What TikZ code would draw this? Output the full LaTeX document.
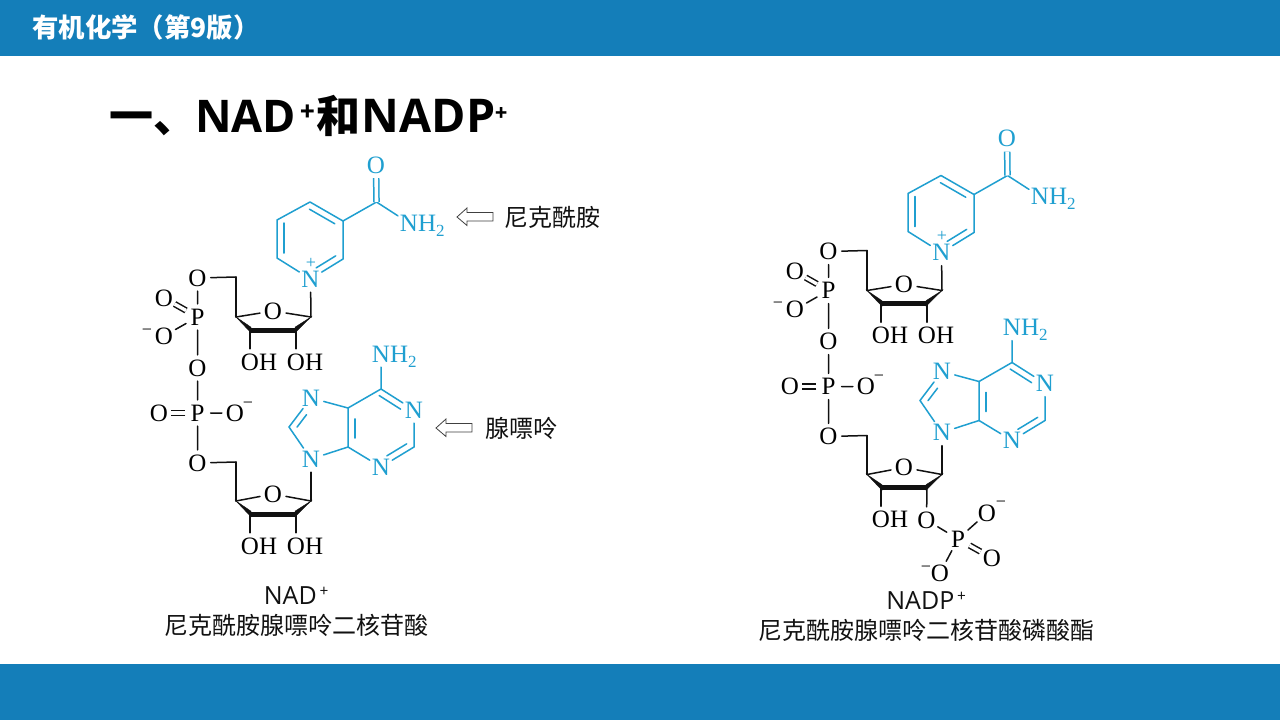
\documentclass[tikz,border=0pt]{standalone}
\usepackage{fontspec}
\setmainfont{Liberation Serif}
\newfontfamily\cjk{Noto Sans CJK SC}
\newfontfamily\latinsans{Open Sans}
\usetikzlibrary{calc}
\definecolor{barblue}{HTML}{147EB9}
\definecolor{chemblue}{HTML}{1F9FD0}
\definecolor{inkblack}{HTML}{111111}
\newcommand\atomC[1]{\makebox[0pt][c]{#1}}
\newcommand\atomL[1]{\makebox[0pt][l]{\hspace{-.361em}#1}}
\newcommand\subtwo{\raisebox{-5pt}{\fontsize{17}{17}\selectfont 2}}
\newcommand\innerb[5]{\draw[bond] ($(#1)!#3!(#2)!#5pt!90:(#2)$) -- ($(#2)!#4!(#1)!-#5pt!90:(#1)$);}
\newcommand\sugarring{%
  \fill[bondblack] (c4) -- ($(c3)+(1,-2.8)$) -- ($(c3)+(1,2.8)$) -- cycle;
  \fill[bondblack] (c1) -- ($(c2)+(-1,-2.8)$) -- ($(c2)+(-1,2.8)$) -- cycle;
  \draw[bondblack,line width=5pt] (c3) -- (c2);
  \draw[bondk] (c4) -- (Or) (Or) -- (c1);
}
\newcommand\moleculecore{%
  % nicotinamide
  \begin{scope}[chem]
  \node[atom] (Oa) at (376,165) {\atomC{O}};
  \coordinate (Ca) at (376.5,202);
  \node[atom] (Na) at (409,223) {\atomL{NH\subtwo}};
  \coordinate (T) at (310,202);
  \coordinate (RT) at (343,221);
  \coordinate (RB) at (343,259);
  \node[atom] (Np) at (310.5,279) {\atomC{N}};
  \coordinate (LB) at (277,258);
  \coordinate (LT) at (277,220);
  \node[signnode] (plus) at (311,263) {+};
  \draw[bond] (T) -- (RT) -- (RB) -- (Np) (Np) -- (LB) -- (LT) -- (T);
  \draw[bond] (RT) -- (Ca) -- (Na);
  \draw[bond,line cap=butt,double,double distance=3.6pt] (Ca) -- (Oa);
  \innerb{LT}{LB}{.08}{.13}{7}
  \innerb{RT}{T}{.15}{.08}{6.5}
  \innerb{Np}{RB}{.28}{.12}{6.5}
  % adenine
  \node[atom] (Nb) at (381,354) {\atomL{NH\subtwo}};
  \coordinate (C6) at (381,389);
  \node[atom] (N1) at (414,410) {\atomC{N}};
  \coordinate (C2a) at (414,447);
  \node[atom] (N3) at (381,467) {\atomC{N}};
  \coordinate (C4a) at (348,447);
  \coordinate (C5a) at (348,408);
  \node[atom] (N7) at (311,398) {\atomC{N}};
  \coordinate (C8) at (289,427);
  \node[atom] (N9) at (311,459) {\atomC{N}};
  \draw[bond] (Nb) -- (C6) -- (N1) (N1) -- (C2a) -- (N3) (N3) -- (C4a) -- (C5a) -- (C6);
  \draw[bond] (C5a) -- (N7) (N7) -- (C8) -- (N9) (N9) -- (C4a);
  \innerb{C5a}{C4a}{.28}{.23}{7}
  \innerb{N3}{C2a}{.28}{.12}{6.5}
  \innerb{N1}{C6}{.3}{.05}{6.5}
  \innerb{N7}{C8}{.44}{.13}{6.5}
  \end{scope}
  % upper ribose
  \begin{scope}[name prefix=u-]
  \coordinate (c4) at (236,317);
  \coordinate (c3) at (250,330);
  \coordinate (c2) at (296,330);
  \coordinate (c1) at (311,317);
  \coordinate (c5) at (236,277);
  \node[atom] (Or) at (273,311) {\atomC{O}};
  \sugarring
  \node[atom] (O3) at (250,362) {\atomL{OH}};
  \node[atom] (O2) at (296,362) {\atomL{OH}};
  \draw[bondk] (c3) -- (O3) (c2) -- (O2) (c4) -- (c5);
  \end{scope}
  \draw[bondk] (u-c1) -- (Np);
  % pyrophosphate
  \node[atom] (O5) at (197.5,278) {\atomC{O}};
  \node[atom] (Pa) at (197.5,317) {\atomC{P}};
  \node[atom] (Oab) at (164,298) {\atomC{O}};
  \node[atom] (Oac) at (164,336) {\atomC{O}};
  \node[signnode] (ma) at (147,332) {−};
  \node[atom] (Ob) at (197.5,368) {\atomC{O}};
  \node[atom] (Pb) at (197.5,413) {\atomC{P}};
  \node[atom] (Obl) at (159,413) {\atomC{O}};
  \node[atom] (Obr) at (235,413) {\atomC{O}};
  \node[signnode] (mb) at (248,405) {−};
  \node[atom] (Oc) at (197.5,463) {\atomC{O}};
  \draw[bondk] (u-c5) -- (O5) (O5) -- (Pa) (Pa) -- (Oac) (Pa) -- (Ob) (Ob) -- (Pb) (Pb) -- (Obr) (Pb) -- (Oc);
  \draw[bondk,line cap=butt,double,double distance=3.4pt,shorten >=-1pt] (Pa) -- (Oab);
  \draw[bondk,line cap=butt,double,double distance=3.4pt,shorten <=-1pt,shorten >=-1pt] (Pb) -- (Obl);
  % lower ribose
  \begin{scope}[name prefix=d-]
  \coordinate (c4) at (236,501);
  \coordinate (c3) at (250,514);
  \coordinate (c2) at (296,514);
  \coordinate (c1) at (311,501);
  \coordinate (c5) at (236,462);
  \node[atom] (Or) at (273,494) {\atomC{O}};
  \sugarring
  \node[atom] (O3) at (250,546) {\atomL{OH}};
  \draw[bondk] (c3) -- (O3) (c4) -- (c5);
  \end{scope}
  \draw[bondk] (d-c5) -- (Oc);
  \draw[bondk] (d-c1) -- (N9);
}
\tikzset{
  x=1pt,y=-1pt,
  chem/.style={text=chemblue,draw=chemblue,fill=chemblue},
  bond/.style={draw=chemblue,line width=1.5pt,fill=none,line cap=round},
  bondk/.style={draw=inkblack,line width=1.5pt,line cap=round},
  bondblack/.style={draw=inkblack,fill=inkblack},
  atom/.style={circle,inner sep=0pt,minimum size=26pt,text height=16.5pt,text depth=0pt,
    font=\fontsize{25}{30}\selectfont,draw=none,fill=none},
  signnode/.style={inner sep=0pt,font=\fontsize{18}{20}\selectfont,draw=none,fill=none},
  caption/.style={inner sep=0pt,font=\cjk\fontsize{24}{29}\selectfont,text=inkblack},
  hollow/.style={draw=black!75,line width=.8pt,fill=white},
}
\begin{document}
\begin{tikzpicture}
\useasboundingbox (0,0) rectangle (1280,720);
\fill[white] (0,0) rectangle (1280,720);
\fill[barblue] (0,0) rectangle (1280,56);
\fill[barblue] (0,664) rectangle (1280,720);
\node[anchor=west,inner sep=0pt,text=white,font=\cjk\bfseries\fontsize{26.4}{30}\selectfont] (head) at (32,28) {有机化学（第9版）};
\node[anchor=west,inner sep=0pt,text=black,font=\cjk\bfseries\fontsize{44}{52}\selectfont] (title) at (109,116)
  {一、\hspace{-2pt}{\latinsans\bfseries\fontsize{45}{52}\selectfont NAD}\hspace{4pt}\raisebox{12pt}{\fontsize{24}{24}\selectfont +}\hspace{2pt}和\hspace{1pt}{\latinsans\bfseries\fontsize{46.5}{52}\selectfont NADP}\raisebox{12pt}{\fontsize{20}{20}\selectfont +}};

% NAD+
\begin{scope}[name prefix=L-]
\moleculecore
\node[atom] (O2x) at (296,546) {\atomL{OH}};
\draw[bondk] (d-c2) -- (O2x);
\end{scope}

% NADP+
\begin{scope}[shift={(631,-26.5)},name prefix=R-]
\moleculecore
\node[atom] (O2p) at (295.5,546.5) {\atomC{O}};
\node[atom] (Pc) at (327,565.5) {\atomC{P}};
\node[atom] (Oc1) at (356,539.5) {\atomC{O}};
\node[signnode] (mc1) at (370,531) {−};
\node[atom] (Oc2) at (361,584.5) {\atomC{O}};
\node[atom] (Oc3) at (309,599.5) {\atomC{O}};
\node[signnode] (mc3) at (295,595.5) {−};
\draw[bondk] (d-c2) -- (O2p) (O2p) -- (Pc) (Pc) -- (Oc1) (Pc) -- (Oc3);
\draw[bondk,line cap=butt,double,double distance=3.4pt] (Pc) -- (Oc2);
\end{scope}

% hollow arrows
\draw[hollow] (457,217) -- (467,208) -- (467,212.5) -- (493,212.5) -- (493,221) -- (467,221) -- (467,225.5) -- cycle;
\draw[hollow] (436,428) -- (446,419) -- (446,423.5) -- (472,423.5) -- (472,432) -- (446,432) -- (446,436.5) -- cycle;
\node[caption,anchor=west] (nam) at (504,217) {尼克酰胺};
\node[caption,anchor=west] (ade) at (485,428) {腺嘌呤};

\node[caption] (nadname) at (296,596) {{\latinsans\fontsize{25}{29}\selectfont NAD}\hspace{3pt}\raisebox{8pt}{\fontsize{15}{15}\selectfont +}};
\node[caption] (nadfull) at (296.5,625) {尼克酰胺腺嘌呤二核苷酸};
\node[caption] (nadpname) at (926,601) {{\latinsans\fontsize{25}{29}\selectfont NADP}\hspace{3pt}\raisebox{8pt}{\fontsize{15}{15}\selectfont +}};
\node[caption] (nadpfull) at (926,630) {尼克酰胺腺嘌呤二核苷酸磷酸酯};
\end{tikzpicture}
\end{document}
